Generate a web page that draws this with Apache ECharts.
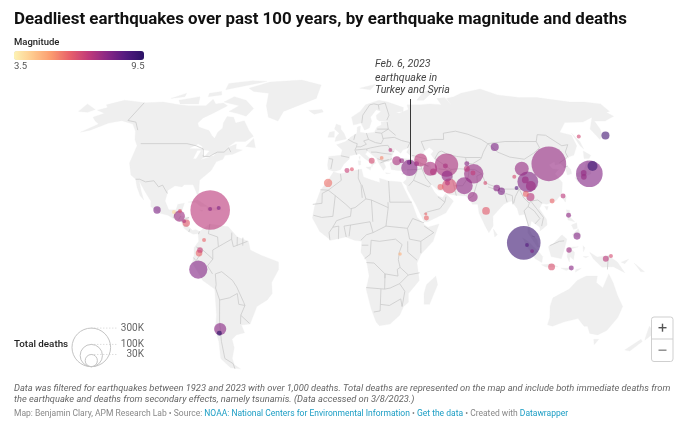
<!DOCTYPE html>
<html><head><meta charset="utf-8">
<style>html,body{margin:0;padding:0;background:#fff}#c{width:680px;height:422px}</style>
<script src="https://cdn.jsdelivr.net/npm/echarts@6/dist/echarts.min.js"></script>
</head><body><div id="c"></div>
<script>
// ---- Data ----
const quakeLon = [-72.5,118.2,95.9,139,59,102.8,73.5,-78,66.9,37.4,58.6,49.3,101.6,44.6,-70.5,58.2,-88.8,70.6,142.8,90.4,-101.3,124.5,103.9,102.3,-8.9,76.9,-84.7,162,30.6,84.7,86.9,113.7,-77.3,-76.8,111,-71.5,53.6,16.1,50.8,58.3,57.8,73.2,70.9,70.2,37.8,41.9,33.5,101.7,100.1,96,95.7,78.9,120.3,121.2,120,121.6,139.7,142.4,97.6,100.3,145,136,135.2,-74.7,-86,-68,-72.6,-92,-88.8,1.7,4.5,22,27.6,29.9,44.2,44.4];
const quakeLat = [18.4,39.6,3.3,35,39,31.3,35,-9,29.5,37.7,29.4,37.3,37.3,41.4,-36.3,34,15.6,24.4,38.6,47.4,18.4,6.4,29.4,24.4,30.8,18,12.4,52.9,41,28.5,27,22.5,-1.4,0,-7.8,-38.2,29,41,35.9,38.6,30.8,35.4,39.6,37.3,40.2,39.6,41,32.2,25.8,33.6,28.5,30.8,24.8,16,0,-8.3,-4,-2.8,2.3,-0.5,52.4,35.4,33.6,4.6,13.3,19.3,18.9,17.5,17.9,36.5,37.1,42.3,46,-1.8,16.6,14.7];
const quakeMag = [7,7.6,9.1,7.9,7.3,7.9,7.6,7.9,7.7,7.8,6.5,7.3,7.6,7,7.8,7.7,7.5,7.6,9.1,8,8,7.9,7.5,7.1,5.8,6.2,6.2,9,7.3,7.8,8,6,6,6.8,6.4,9.5,6,6.5,7.2,7.3,7,6.9,7.8,7,8.2,7.5,7.6,7.5,6,6.5,8.6,6.5,7,7.7,7.5,7.8,7,6.5,8.6,8,6.6,7.6,7.6,6,7.2,8,7.8,4,6.3,6.8,6.3,5.5,7,4.8,6,6];
const quakeDeaths = [316000,242800,227900,142800,110000,87500,76000,66800,58000,53000,45000,39500,39500,34000,30000,24400,25000,20000,20000,13000,11000,10000,20000,13000,14000,12000,11000,13000,16000,9000,10700,5000,9000,6500,9500,5000,7200,7000,9000,5000,5000,5000,5000,7000,5000,5000,5000,9300,7000,3200,3000,3000,5000,5000,6000,5000,7000,3200,3000,3000,3200,6500,6500,3200,3200,3200,3200,3200,3200,5000,3200,3000,3000,2500,1800,5000];

const colorStops = ['#fdf3b4','#fec98d','#fb9b6f','#e8606a','#c13a79','#8a2785','#541a80','#2a1266'];
const magnitudeRange = [3.5, 9.5];
const legendDeaths = [300000, 100000, 30000];
const legendLabels = ['300K', '100K', '30K'];

const landRings = [
[[-168,65.6],[-163,67],[-166,68.5],[-157,71],[-148,70.3],[-141,69.6],[-128,70],[-115,68.5],[-108,68],[-96,68],[-94,71.5],[-90,69],[-85,69.5],[-81,68],[-87,64.5],[-93,61.5],[-94.5,59],[-92.5,57],[-85,55.3],[-82,53],[-79.5,51.5],[-79,54.5],[-77,56.5],[-78,59],[-77.5,62.4],[-73,62],[-70,59],[-65,60.2],[-60,55.5],[-56,52.5],[-60,50],[-66,50],[-70,47],[-65,48.8],[-64.5,46.5],[-60.5,46],[-65.5,44],[-70,43.5],[-70.5,41.7],[-74,40.5],[-75.7,36.5],[-81,32],[-80.2,27],[-80.5,25],[-82.5,28],[-84,30],[-89,30],[-90,29],[-94,29.5],[-97.3,27.5],[-97.7,22.5],[-95,18.5],[-91,18.5],[-90.5,21],[-87,21.5],[-88,17],[-88.5,15.8],[-83.5,15],[-83.7,11],[-81,9],[-79.5,9.5],[-77.3,8.5],[-78.5,7.5],[-80.5,7.3],[-83,8.3],[-85.7,10],[-87.5,13],[-91,14],[-95,16],[-100,17],[-105,20],[-105.5,22.5],[-109,26],[-112.5,29.5],[-114.7,31.7],[-112,27],[-109.5,23],[-112,25],[-115,29],[-117,32.5],[-120.5,34.5],[-124,40],[-124.5,48],[-128,51],[-131,55],[-136,58.5],[-145,60.2],[-152,59],[-160,55.5],[-165,54.5],[-158,58.5],[-162,60],[-166,62],[-161,64]],
[[-9,37],[-9.5,39],[-9,43],[-2,43.5],[-1,46],[-4.5,48.5],[1,50],[4,52],[8,54],[8.5,57],[10.5,57.5],[10,54.5],[14,54],[19,54.5],[21,57],[24,58],[24,59.5],[30,60],[23,60],[21.5,61],[21.5,63],[25,65],[22,65.8],[17.5,62],[18,60],[16,56.5],[13,55.5],[11,59],[6,58],[5,62],[11,65],[15,68.5],[25,71],[31,70],[41,67],[40,65],[35,64.5],[37,64],[44,66],[44,68.5],[54,68.5],[60,69],[68,68.5],[67,72],[73,72.5],[75,68],[74,72],[80,73],[87,75],[104,77.5],[113,74],[127,72.5],[140,72.5],[160,70],[170,70],[180,69],[180,65],[177,64.5],[179,62.5],[170,60],[163,60],[162,56],[160,53],[156.7,51],[155.7,56],[164,62],[155,59.5],[143,59.3],[135,54.5],[141,53],[140,48],[135,43.5],[130,42.5],[127.5,39.8],[129.5,37],[129,35],[126.3,34.5],[126.7,37.5],[125,39.6],[121.5,39],[122,40.7],[118,39],[119,37.3],[122.5,37],[119.5,35],[122,31],[120,26],[116,22.8],[110.5,21],[108,21.5],[106,19],[109,14],[109,11.5],[105,8.8],[105,10.5],[102,12.5],[100.8,13.4],[99.5,10],[99.5,9],[100.5,7],[103,5],[104,1.5],[103,1.5],[100.5,5],[98.3,8],[98.7,12],[97.5,16.5],[94.5,16],[94,19],[91.5,22.5],[89,21.8],[87,21],[85,19.5],[80.3,15.5],[80,11],[77.5,8],[76,10.5],[73,17],[72.8,21],[70,21],[69,22.5],[67,24.8],[61,25.2],[57,25.7],[56.5,27],[52,27.5],[49,30],[48,30],[50,26.5],[51.5,25],[54,24],[56,26],[59.8,22.5],[55,17],[45,13],[43,13],[39,21],[35,28],[34.9,29.5],[33,31],[35,32.5],[36,36.5],[30.5,36.5],[27,37],[26.5,40],[29,41],[35,42],[41.5,41.5],[37,45],[39,47],[35,46],[33.5,44.5],[30.5,46.5],[28,43],[28,41.5],[26,40.7],[23,40.3],[24,38],[22.5,36.5],[20,40],[19,42],[14,45.5],[12.5,44],[16,41.5],[18.5,40],[16.5,39],[16,38],[15.8,40],[12,42],[9,44.3],[3.5,43.3],[3,41.7],[0,39.5],[-2,36.8],[-5.5,36]],
[[-6,35.8],[-2,35],[10,37.2],[11,33.5],[15,32.3],[20,31],[20,33],[25,31.7],[32,31.2],[33,29],[35.5,24],[37.3,21],[39.5,15],[43,11.7],[45,10.5],[51,12],[47.5,4],[41,-2],[39,-6],[40.5,-14],[35,-20],[35.3,-24],[32.8,-26],[31,-30],[26,-34],[20,-34.8],[18,-33],[15,-27],[12,-18],[13.5,-12],[12,-5],[9,-1],[9.5,4],[5.5,4.5],[1,6],[-7,4.5],[-13,8.5],[-17,14.7],[-16,20],[-13,27.5],[-9.7,31]],
[[-77.3,8.5],[-72,12],[-62,10.7],[-57,6],[-51,4],[-50,0],[-44,-2.5],[-35,-5.5],[-35,-9],[-39,-15],[-39,-20],[-42,-23],[-48,-26],[-53,-34],[-58,-34.5],[-57,-38],[-62,-39],[-65,-41],[-65,-45],[-68,-50],[-68,-53],[-65,-55],[-71,-54.5],[-75,-50],[-73,-42],[-73.5,-37],[-71,-30],[-70,-18],[-76,-14],[-81,-6],[-80,-2.5],[-80,1],[-77.5,4],[-78,7.5]],
[[-73,78],[-60,82],[-35,83.5],[-18,80],[-20,72],[-32,68],[-41,65],[-43,60],[-50,62],[-54,68],[-56,75],[-68,76]],
[[-80,73],[-70,71],[-62,66.5],[-65,62.5],[-72,64],[-78,65],[-73,68],[-85,70]],[[-118,71],[-105,73],[-102,69],[-115,69]],[[-90,77],[-63,82.5],[-75,83],[-92,81]],[[-125,72],[-117,75],[-116,73]],[[-100,75],[-92,76],[-90,74],[-99,73]],[[-59,47.7],[-55.5,51.5],[-53,47]],[[-24,65.5],[-15,66],[-14,64.7],[-20,63.5]],
[[-5.5,50],[1.5,51.2],[0,54],[-2,56],[-2,57.7],[-5,58.5],[-6,56],[-3,54],[-5,52]],[[-10,52],[-6,52],[-6,55],[-9,54.5]],[[12,78],[25,80.5],[20,77]],[[52,71],[57,71],[68,76.5],[60,76]],[[142,54],[143.5,50],[143,46.5],[142,48]],
[[130.8,33.8],[135.5,33.5],[140,35],[141,38],[141.5,41.2],[140,40],[137,37],[132,35.3]],[[140,42],[142,45.5],[145,43.5],[143,42]],[[130,33.3],[132,33],[131,31]],[[121,25.2],[122,24.5],[120.8,22],[120,23.5]],[[109,20],[111,20],[110,18.3]],
[[120.5,18.5],[122.2,18.3],[122,15],[124,13],[120.5,13.8]],[[122,7],[125.5,9.8],[126.5,7],[125,5.7]],[[122,11.5],[125,12.5],[125,10],[123,9.5]],[[109,1.5],[111.5,2.8],[116.5,7],[119,5],[117.7,1],[116,-4],[110.5,-3]],[[95.3,5.6],[98,4.2],[104,-1],[106,-3],[105.7,-5.8],[102,-4],[98,1]],[[105.5,-6.8],[111,-6.5],[114.5,-7.7],[108,-7.9]],
[[119.5,0],[120,1.2],[125,1.5],[121,0.5],[123,-1],[122.5,-4.5],[120.5,-3],[120.3,-5.5],[119,-3]],[[131,-1],[135,-3.2],[141,-2.6],[146,-5.5],[150.5,-10.5],[144,-7.7],[138,-8],[133,-4]],[[116,-8.3],[122,-8.3],[119,-9.5]],[[124,-9],[127,-8.4],[124,-10.2]],[[127.5,-3],[130.5,-3],[129,-3.6]],[[127.5,2],[128.5,1],[127.7,-0.8]],[[148,-5.6],[152,-4.2],[150,-6.3]],[[155,-6],[161,-10],[159,-10]],
[[114,-22],[122,-18],[125.5,-14],[130,-12],[136,-12],[136,-15],[140,-17.5],[142,-11],[145,-15],[149,-21],[153.5,-26],[153,-31],[150,-37],[146,-39],[141,-38.3],[138,-35],[136,-35],[131,-31.5],[124,-33],[118,-35],[115,-34.3],[115,-31],[113.5,-26]],[[145,-41],[148,-41],[147,-43.5]],[[173,-35],[178,-38],[175,-41.5],[174,-39]],[[172.5,-41],[174,-42],[170.5,-46.5],[167,-46]],
[[49.3,-12],[50.5,-16],[47,-25],[44,-25],[43.5,-20],[44.5,-16]],[[80,9.7],[82,7],[80.5,6]],[[-85,22],[-80,23],[-74,20],[-78,20],[-81,22]],[[-74.5,19.8],[-69,19.5],[-68.5,18.3],[-74,18.2]],[[-78.3,18.4],[-76.3,18.2],[-77,17.8]],[[-67.2,18.5],[-65.6,18.4],[-66,18]],
[[12.5,38],[15.6,38.2],[15,36.7]],[[8.2,41],[9.7,41],[9.5,39],[8.5,39]],[[8.7,42.8],[9.5,43],[9.3,41.5]],[[23.5,35.5],[26.3,35.2],[24,35]],[[32.5,35],[34.5,35.6],[33.5,34.6]],[[-180,69],[-175,67.5],[-170,66],[-173,64.5],[-180,65]]
];
const lakeRings = [
[[47,45],[51,47],[53,45.5],[51,44],[53,41],[54,37],[50,37.3],[49.5,40.5]],
[[-92,46.8],[-88,48.7],[-85,47.5],[-85,46.7]],[[-87.8,42],[-87,45.7],[-85,45.7],[-86.3,42]],[[-84.3,46],[-80,45.5],[-81.7,43.2],[-83.5,44]],[[-83,41.7],[-79,42.8],[-81,42.7]],[[-79.7,43.5],[-76,44],[-76.5,43.3]]
];
const borderLines = [
[[-141,69.6],[-141,60.3],[-135,59.5],[-130,55.5]],[[-123,49],[-95,49],[-89,48],[-84,46.5],[-82.5,43],[-79,43],[-75,45],[-71,45],[-69,47],[-67,45]],[[-117,32.5],[-114.7,32.5],[-111,31.3],[-106.5,31.8],[-103,29],[-101,29.8],[-97.3,26]],[[-92,14.7],[-91,17],[-89,17.8],[-88.2,18.5]],[[-89,14],[-88,15.8]],[[-87.5,13],[-85,14.5],[-83.5,15]],[[-85.7,11],[-83.7,11]],[[-83,8.3],[-82.7,9.5]],[[-77.3,8.5],[-77.8,7.3]],
[[-72,12],[-72.5,7.5],[-67.5,6],[-67,1.5]],[[-67,1.5],[-70,0],[-70,-4.2]],[[-78.8,1.4],[-75.3,0],[-70,-4.2]],[[-80.3,-3.5],[-79,-5],[-75.3,-0.2]],[[-70,-4.2],[-73,-7.3],[-70.5,-11]],[[-69,-11],[-69,-16],[-69.5,-17.5]],[[-69,-11],[-65.5,-10],[-60,-14],[-58,-17]],[[-58,-20],[-62.5,-22]],[[-69.5,-17.5],[-68,-23],[-62.5,-22]],[[-68,-23],[-70,-33],[-71.5,-42],[-72.5,-50],[-68.5,-52.5],[-68.5,-55]],[[-58,-20],[-57.8,-25],[-54.5,-25.5],[-55,-24],[-58,-17]],[[-54.5,-25.5],[-57.5,-30],[-58.4,-34]],[[-57.5,-30],[-53.3,-33.7]],[[-67,1.5],[-60,5],[-60,8]],[[-60,5],[-59,1.5],[-51.5,4]],[[-57,6],[-57,2]],[[-54,5.7],[-54,2]],
[[-2,35],[-1.5,32],[-8.7,27.5]],[[-8.7,27.5],[-13,27.7]],[[-8.7,27.5],[-12,26],[-12,21.5],[-17,21]],[[-4.8,25],[-6,15.5],[-12,15],[-16.5,16]],[[-8.7,27.5],[-4.8,25],[1,21],[3.5,19],[6,19.5],[12,23.5]],[[8.3,37],[8,33],[9.5,30],[10,24]],[[10,30],[12,23.5],[15,23],[24,19.5],[24,22]],[[25,31.7],[25,22]],[[25,22],[37,22]],[[15,23],[15.5,13]],[[3.5,11.5],[14,13]],[[24,19.5],[22.5,11]],[[15.5,8],[22.5,11]],[[14,13],[15.5,8]],[[9,4.5],[12,7],[15.5,8]],[[14.5,4.5],[19,4],[27.5,5]],[[22.5,11],[34,10]],[[37,14.5],[34,10]],[[34,10],[35,5]],[[43,11],[48,8],[41,4]],[[35,5],[41,4],[41,-1.5]],[[34,4],[34,-1],[39,-4.7]],[[27.5,5],[31,2.5],[29.5,-1],[29,-4.5],[30,-8],[28.5,-9],[29,-12],[22,-11],[22,-13]],[[30,-8],[34.5,-11.5],[40.5,-10.5]],[[12,-5.8],[16,-6],[22,-11],[22,-18],[12,-17.3]],[[20,-18],[20,-28],[16.5,-28.5]],[[22,-18],[25,-17.5],[30,-15.5],[34.5,-11.5]],[[30,-15.5],[33,-19],[32,-26]],[[20,-25],[25,-25.5],[31,-22.5],[32,-26]],[[-3,5],[-2.8,11],[-6,10.5],[-8,8],[-7.5,4.5]],[[1.2,6],[0,11],[3.5,11.5]],[[2.7,6.3],[3.5,11.5]],[[-6,10.5],[-4,13.5],[1,15],[3.5,15.5],[4,19]],[[11,-4],[14,-2],[14.5,4.5]],[[9.5,2.2],[13,2.2]],[[37,14.5],[43,12.5]],
[[-1.8,43.3],[3,42.5]],[[-8.8,42],[-6.5,41.7],[-7.5,37.2]],[[2.5,51],[6,49.5],[8,49],[7.5,47.5],[6.5,46],[7.5,43.8]],[[7,53.5],[6,50.8]],[[14,54],[15,51],[12,50.3],[13.5,48.7],[10,47.5],[7.5,47.5]],[[15,51],[19,49.5],[22.5,49],[24,51],[23.5,54],[19.5,54.4]],[[7,46],[13.5,46.5],[13.7,45.6]],[[13.5,46.5],[16,47],[22.5,48],[26.5,48.2],[28,45.5],[29.7,45.2]],[[22.5,44.5],[28,44]],[[19.5,42],[22.5,41],[26.3,41.5]],[[21,40],[26,41.5]],[[16,45],[19,45],[22.5,44.5]],[[24,51.5],[31,52],[35,50.5],[40,49.5],[38,47]],[[23.5,54],[28,56],[32,53]],[[28,56],[28,59.5]],[[21,56],[28,56]],[[28,60.5],[30,63],[29,69.5],[24,68.5],[24,66]],[[11.5,59],[12.5,63],[18,68.5],[21,69],[24,68.5]],
[[48,46],[47,50],[55,51],[61,51],[62,54],[70,55],[77,53.5],[84,51],[87,49]],[[87,49],[98,50],[107,50],[117,50],[120,53.3]],[[120,53.3],[125,53],[131,48],[135,48.5],[131,45],[131,42.5]],[[87,49],[91,45],[97,42.7],[105,41.7],[112,44.5],[117,47],[117,50]],[[87,49],[82.5,45],[80,42]],[[53,42],[56,45],[58,45.5],[61,44],[66,43],[71,42.5],[80,42.5]],[[71,42.5],[71,40],[74,39.5],[80,42]],[[53,42],[61,37],[66,37.3],[71,37]],[[54,37.3],[61,36.5],[61,31],[61.7,25]],[[61,29.5],[66,29.5],[70,33.5],[71.5,37],[74.5,37]],[[68.5,23.7],[71,25],[74.5,31],[75,34],[78,35]],[[74.5,37],[78,35],[79,31],[81,30],[88,28],[92,28],[97,28],[98.5,24],[101,21.5],[102,22.5],[106,23],[108,21.5]],[[80,29],[88,26.5]],[[88.5,26],[89,22]],[[89,26],[92.5,25],[92,21]],[[92.5,21.5],[94,24.5],[97,28]],[[101,21.5],[100,20],[97.5,18],[99,11]],[[100,20],[103,18],[105.5,14.5],[102.5,12]],[[102,22.5],[104.5,19],[107.5,15],[106,11]],[[100.3,6.5],[102,6]],[[124.5,40],[130.5,42.5]],[[126,38],[128.5,38.5]],
[[26.5,41.5],[28,42]],[[36,36.8],[42,37],[44.5,37.3],[44,40],[43,41.3],[41.5,41.5]],[[44.5,37.3],[46,33],[48.5,30]],[[36,29.5],[39,32],[42,37]],[[39,32],[47,29],[48,29.5]],[[51.5,24.5],[55,22],[52,19],[45,17.5],[43,16.5]],[[55,22],[56,24.5]],[[40,43.5],[48,41.8]],[[44,40],[48.5,38.5],[44.5,39.5]],[[109.7,2],[115,4],[117.5,4.2]],[[141,-2.6],[141,-9]]
];

// Natural Earth I projection onto the page
const R = 123.4, cx = 344, cy = 250, D = Math.PI / 180;
function project(p) {
  const l = p[0] * D, f = p[1] * D, f2 = f * f, f4 = f2 * f2;
  return [cx + R * l * (0.8707 - 0.131979 * f2 + f4 * (-0.013791 + f4 * (0.003971 * f2 - 0.001529 * f4))),
          cy - R * f * (1.007226 + f2 * (0.015085 + f4 * (-0.044475 + 0.028874 * f2 - 0.005916 * f4)))];
}
function unproject(pt) {
  let lat = (cy - pt[1]) / R / D;
  for (let i = 0; i < 8; i++) lat += (project([0, lat])[1] - pt[1]) / R / D;
  const unit = project([1, lat])[0] - cx;
  return [(pt[0] - cx) / unit, lat];
}

const feature = (name, rings) => ({ type: 'Feature', properties: { name },
  geometry: { type: 'MultiPolygon', coordinates: rings.map(r => [r.concat([r[0]])]) } });
echarts.registerMap('world', { type: 'FeatureCollection', features: [feature('land', landRings), feature('lakes', lakeRings)] });

let x0 = 1e9, x1 = -1e9, y0 = 1e9, y1 = -1e9;
landRings.concat(lakeRings).forEach(r => r.forEach(p => { const q = project(p);
  x0 = Math.min(x0, q[0]); x1 = Math.max(x1, q[0]); y0 = Math.min(y0, q[1]); y1 = Math.max(y1, q[1]); }));

const sizeFor = d => 38.6 * Math.sqrt(d / legendDeaths[0]);
const quakeData = quakeLon.map((lon, i) => ({ value: [lon, quakeLat[i], quakeMag[i], quakeDeaths[i]] }))
  .sort((a, b) => b.value[3] - a.value[3]);

const FONT = 'Roboto';
const txt = (x, y, text, extra) => ({ type: 'text', x, y, silent: true, z: 20,
  style: Object.assign({ text, font: '10px ' + FONT, fill: '#333', textVerticalAlign: 'middle' }, extra || {}) });

// bubble-size key
const keyX = 91.3, keyBottom = 366.7, keyLabelX = 144;
const keyGraphics = [];
legendDeaths.forEach((d, i) => {
  const r = sizeFor(d) / 2, top = keyBottom - 2 * r;
  keyGraphics.push({ type: 'circle', silent: true, z: 20, shape: { cx: keyX, cy: keyBottom - r, r },
    style: { fill: 'none', stroke: '#c4c4c4', lineWidth: 1 } });
  keyGraphics.push({ type: 'line', silent: true, z: 20, shape: { x1: keyX, y1: top, x2: 118, y2: top },
    style: { stroke: '#c4c4c4', lineWidth: 0.8, lineDash: [1, 2] } });
  keyGraphics.push(txt(keyLabelX, top + 0.5, legendLabels[i], { textAlign: 'right', fill: '#666', font: '10px ' + FONT }));
});

const chart = echarts.init(document.getElementById('c'), null, { renderer: 'canvas' });
chart.setOption({
  animation: false,
  backgroundColor: '#fff',
  title: { text: 'Deadliest earthquakes over past 100 years, by earthquake magnitude and deaths', left: 14, top: 11, padding: 0,
    textStyle: { fontFamily: FONT, fontSize: 16.9, fontWeight: 700, color: '#111' } },
  visualMap: { type: 'continuous', min: magnitudeRange[0], max: magnitudeRange[1], dimension: 2, seriesIndex: 1,
    orient: 'horizontal', left: 14, top: 51, itemWidth: 9, itemHeight: 130, text: ['', ''], calculable: false,
    hoverLink: false, padding: 0, realtime: false, inRange: { color: colorStops }, textGap: 0 },
  geo: { map: 'world', projection: { project, unproject }, roam: false, silent: true,
    left: x0, top: y0, width: x1 - x0, height: y1 - y0,
    label: { show: false },
    itemStyle: { areaColor: '#efefef', borderColor: '#efefef', borderWidth: 0.3 },
    emphasis: { disabled: true },
    regions: [{ name: 'lakes', itemStyle: { areaColor: '#ffffff', borderColor: '#ffffff' } }] },
  series: [
    { type: 'lines', coordinateSystem: 'geo', polyline: true, silent: true, z: 3, animation: false,
      data: borderLines.map(c => ({ coords: c })), lineStyle: { color: '#c6c6c6', width: 0.7, opacity: 1 } },
    { type: 'scatter', coordinateSystem: 'geo', z: 5, data: quakeData,
      symbol: 'circle', symbolSize: v => sizeFor(v[3]), itemStyle: { opacity: 0.62 } }
  ],
  graphic: [
    txt(14, 43, 'Magnitude', { font: '500 9.5px ' + FONT, fill: '#222' }),
    txt(14, 67, '3.5', { font: '9.5px ' + FONT, fill: '#555' }),
    txt(144.5, 67, '9.5', { font: '9.5px ' + FONT, fill: '#555', textAlign: 'right' }),
    txt(375, 64, 'Feb. 6, 2023', { font: 'italic 10.6px ' + FONT, fill: '#444' }),
    txt(375, 78, 'earthquake in', { font: 'italic 10.6px ' + FONT, fill: '#444' }),
    txt(375, 90.5, 'Turkey and Syria', { font: 'italic 10.6px ' + FONT, fill: '#444' }),
    { type: 'line', silent: true, z: 21, shape: { x1: 410.5, y1: 99, x2: 410.5, y2: 164 }, style: { stroke: '#222', lineWidth: 0.9 } },
    txt(14, 345, 'Total deaths', { font: '500 9.8px ' + FONT, fill: '#222' }),
    ...keyGraphics,
    { type: 'rect', silent: true, z: 20, shape: { x: 651.5, y: 317, width: 21.5, height: 44.5, r: 2.5 }, style: { fill: '#fff', stroke: '#cfcfcf', lineWidth: 1 } },
    { type: 'line', silent: true, z: 21, shape: { x1: 651.5, y1: 339, x2: 673, y2: 339 }, style: { stroke: '#cfcfcf', lineWidth: 1 } },
    { type: 'rect', silent: true, z: 21, shape: { x: 658.5, y: 327, width: 8, height: 1.4 }, style: { fill: '#555' } },
    { type: 'rect', silent: true, z: 21, shape: { x: 661.8, y: 323.7, width: 1.4, height: 8 }, style: { fill: '#555' } },
    { type: 'rect', silent: true, z: 21, shape: { x: 658.5, y: 349.5, width: 8, height: 1.4 }, style: { fill: '#888' } },
    txt(14, 389, 'Data was filtered for earthquakes between 1923 and 2023 with over 1,000 deaths. Total deaths are represented on the map and include both immediate deaths from', { font: 'italic 9.3px ' + FONT, fill: '#666' }),
    txt(14, 400, 'the earthquake and deaths from secondary effects, namely tsunamis. (Data accessed on 3/8/2023.)', { font: 'italic 9.3px ' + FONT, fill: '#666' }),
    { type: 'text', x: 14, y: 414, silent: true, z: 20, style: { textVerticalAlign: 'middle',
      text: '{g|Map: Benjamin Clary, APM Research Lab • Source: }{b|NOAA: National Centers for Environmental Information}{g| • }{b|Get the data}{g| • Created with }{b|Datawrapper}',
      rich: { g: { font: '8.5px ' + FONT, fill: '#888', color: '#888' }, b: { font: '8.5px ' + FONT, fill: '#1a9dc4', color: '#1a9dc4' } } } }
  ]
});
</script></body></html>
